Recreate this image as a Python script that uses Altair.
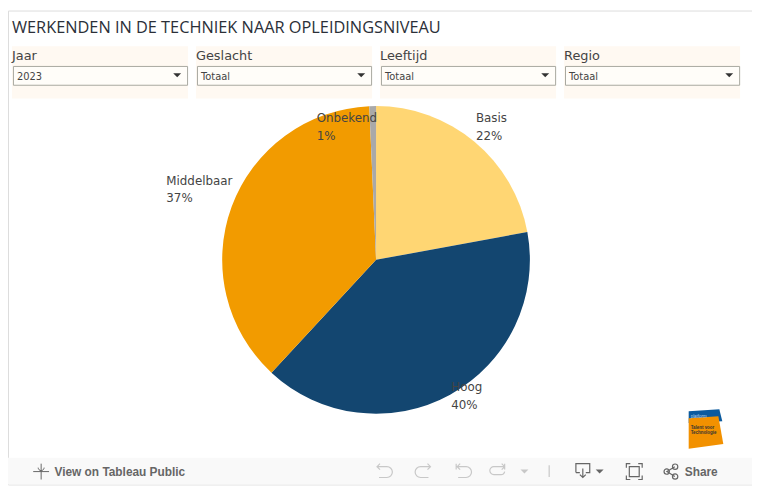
import altair as alt
import pandas as pd

TITLE = "WERKENDEN IN DE TECHNIEK NAAR OPLEIDINGSNIVEAU"
categories = ["Basis", "Hoog", "Middelbaar", "Onbekend"]
shares = [22.1, 39.8, 37.4, 0.7]
pct_labels = ["22%", "40%", "37%", "1%"]
colors = ["#FFD673", "#134670", "#F29B00", "#A9A9A9"]
label_xy = [(481, 121), (456, 393), (168, 184), (320, 121)]

filter_names = ["Jaar", "Geslacht", "Leeftijd", "Regio"]
filter_values = ["2023", "Totaal", "Totaal", "Totaal"]
filter_x = [12, 198, 384, 570]

OFF = 8
one = pd.DataFrame({"a": [0]})


def X(v):
    return alt.value(v - OFF)


def box(x0, y0, x1, y1, fill, stroke=None):
    kw = {"fill": fill}
    if stroke:
        kw.update(stroke=stroke, strokeWidth=1)
    return alt.Chart(one).mark_rect(**kw).encode(
        x=X(x0), x2=X(x1), y=X(y0), y2=X(y1))


def txt(s, x, y, size=12, color="#444444", font="DejaVu Sans", **kw):
    return alt.Chart(one).mark_text(
        align="left", baseline="alphabetic", fontSize=size, color=color, font=font, **kw
    ).encode(x=X(x), y=X(y), text=alt.value(s))


def icon(path, x, y, stroke=None, fill=None, width=1.2):
    kw = {"shape": path, "size": 4, "opacity": 1}
    kw.update(filled=fill is not None)
    if fill:
        kw.update(fill=fill, strokeWidth=0)
    else:
        kw.update(stroke=stroke, strokeWidth=width)
    return alt.Chart(one).mark_point(**kw).encode(x=X(x), y=X(y))


layers = [box(0, 460, 760, 487, "#F9F9F9")]
layers.append(txt(TITLE, 12, 31, size=16.5, color="#2B2F38", font="Open Sans"))

for name, val, x in zip(filter_names, filter_values, filter_x):
    layers.append(box(x, 44, x + 178, 97, "#FFF9F2"))
    layers.append(box(x + 1.5, 64.5, x + 177.5, 83.5, "#FFFDF9", "#A8A8A0"))
    layers.append(txt(name, x, 58, size=13, color="#444444"))
    layers.append(txt(val, x + 5, 78, size=10, color="#444444"))
    layers.append(icon("M-4,-2L4,-2L0,2Z", x + 167, 73.5, fill="#333333"))

pie_df = pd.DataFrame({"cat": categories, "share": shares, "ord": range(4)})
pie = alt.Chart(pie_df).mark_arc(outerRadius=155.5).encode(
    theta=alt.Theta("share:Q", stack=True),
    order=alt.Order("ord:Q"),
    color=alt.Color("cat:N", scale=alt.Scale(domain=categories, range=colors), legend=None),
    x=X(380),
    y=X(260),
)
layers.append(pie)

for cat, pct, (lx, ly) in zip(categories, pct_labels, label_xy):
    layers.append(txt(cat, lx, ly, size=12))
    layers.append(txt(pct, lx, ly + 18, size=12))

# Logo
layers.append(icon("M-16,-10L15,-12L18,0L-16,2Z", 712, 423, fill="#0B5A9E"))
layers.append(icon("M-16,-10L14,-12L19,16L-16,21Z", 712, 430, fill="#F29100"))
layers.append(txt("platform", 698, 420, size=4.5, color="#BFD5E8", font="Liberation Sans"))
layers.append(txt("Talent voor", 698, 431, size=4.5, color="#333333", font="Liberation Sans", fontWeight="bold"))
layers.append(txt("Technologie", 698, 436, size=4.5, color="#333333", font="Liberation Sans", fontWeight="bold"))

# Toolbar
GREY = "#666666"
LIGHT = "#C8C8C8"
layers.append(icon("M-3,-4A3,3 0 1 0 3,-4 M0,-8V8M-8,0H8", 41.5, 474, stroke=GREY, width=1))
layers.append(txt("View on Tableau Public", 55, 478, size=12, color=GREY, font="Liberation Sans", fontWeight="bold"))
layers.append(icon("M-7,-5H3A5,5 0 0 1 3,6H-5M-4,-8L-7,-5L-4,-2", 388, 474, stroke=LIGHT))
layers.append(icon("M7,-5H-3A5,5 0 0 0 -3,6H5M4,-8L7,-5L4,-2", 428, 474, stroke=LIGHT))
layers.append(icon("M-7,-8V-2M-7,-5H3A5,5 0 0 1 3,6H-5M-3,-8L-6,-5L-3,-2", 468, 474, stroke=LIGHT))
layers.append(icon("M7,-8V-2M7,-5H-4A3.5,3.5 0 0 0 -4,3H3A3.5,3.5 0 0 0 7,0M4,-8L7,-5L4,-2", 503, 474, stroke=LIGHT))
layers.append(icon("M-4,-2H4L0,2Z", 530, 474, fill=LIGHT))
layers.append(icon("M0,-6V6", 555, 473.5, stroke=LIGHT))
layers.append(icon("M-7,3V-6H7V3H3M-3,3H-7M0,-1V8M-3,5L0,8L3,5", 589, 472, stroke=GREY))
layers.append(icon("M-4,-2H4L0,2Z", 606, 474, fill=GREY))
layers.append(icon("M-8,-4V-8H-4M4,-8H8V-4M8,4V8H4M-4,8H-8V4M-5,-5H5V5H-5Z", 641, 474, stroke=GREY))
layers.append(icon("M4,-5L-4,0L4,5M7,-5A2.7,2.7 0 1 1 1.6,-5A2.7,2.7 0 1 1 7,-5M-1.5,0A2.7,2.7 0 1 1 -6.9,0A2.7,2.7 0 1 1 -1.5,0M7,5A2.7,2.7 0 1 1 1.6,5A2.7,2.7 0 1 1 7,5", 678, 474, stroke=GREY))
layers.append(txt("Share", 692, 478, size=12, color=GREY, font="Liberation Sans", fontWeight="bold"))

chart = alt.layer(*layers).properties(
    width=752, height=479, padding=0, autosize=alt.AutoSizeParams(type="none")
).configure_view(stroke=None).configure(background="white")

chart.save("out.html", embed_options={"renderer": "svg", "actions": False})
